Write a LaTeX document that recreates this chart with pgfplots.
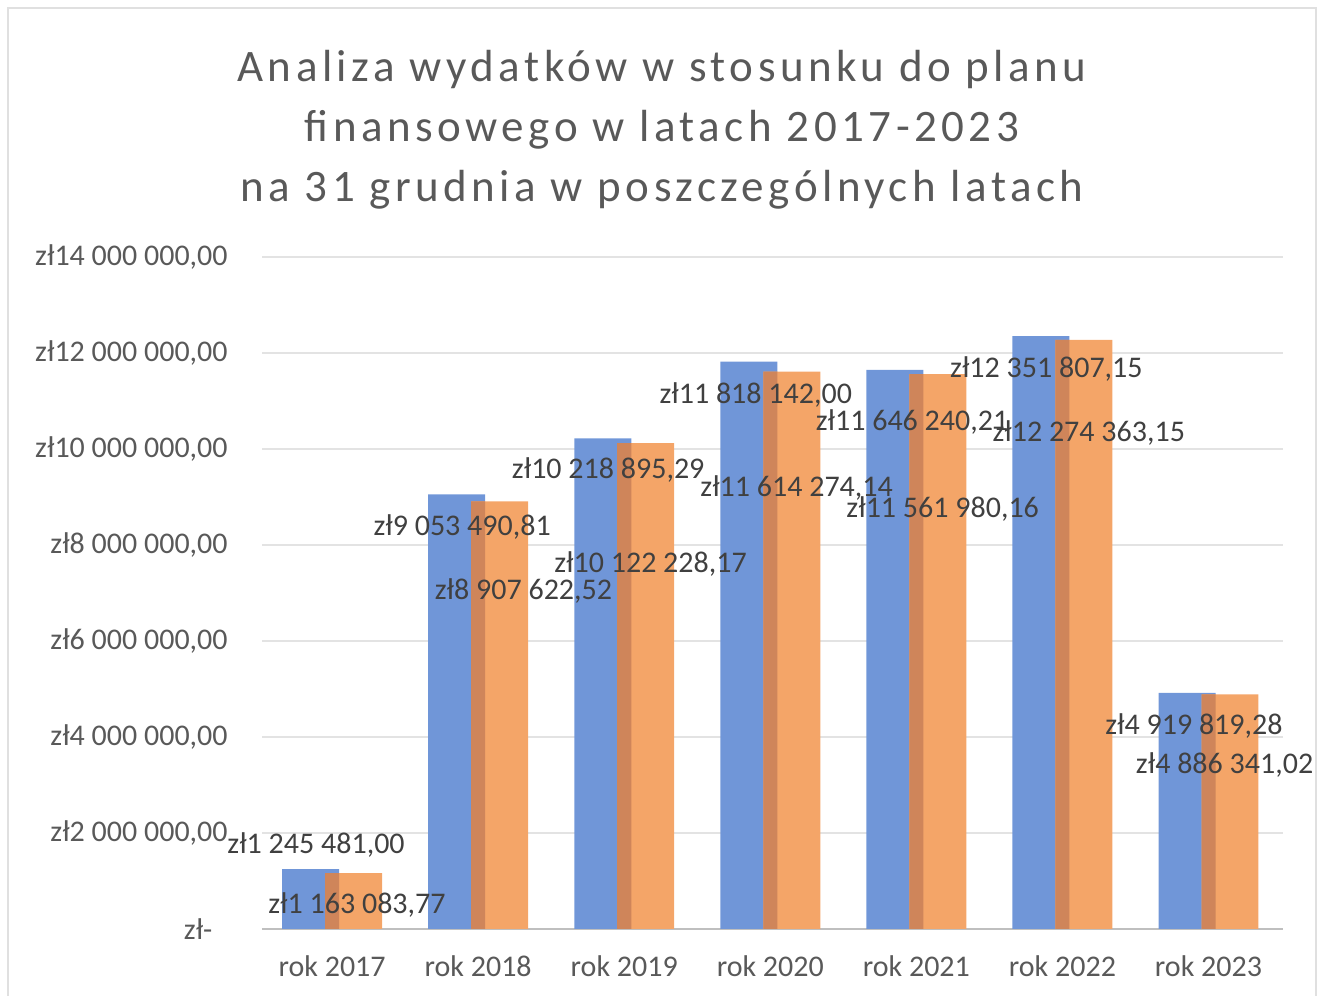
\documentclass[border=0pt]{standalone}
\usepackage{pgfplots}
\pgfplotsset{compat=1.18}
\usepackage{pgfplotstable}
\usepackage{fontspec}
\setmainfont{Carlito}
\newfontfamily\titlefont[LetterSpace=10]{Carlito}
\definecolor{cblue}{HTML}{7096D8}
\definecolor{corange}{HTML}{F4A568}
\definecolor{cdark}{HTML}{CF855A}
\definecolor{tgray}{HTML}{595959}
\definecolor{lgray}{HTML}{404040}
\definecolor{gridc}{HTML}{E3E3E3}
\definecolor{axisc}{HTML}{BFBFBF}
\tikzset{lab/.style={text=lgray, font=\fontsize{15}{18}\selectfont, inner sep=0pt}}

\pgfplotstableread{
x blue orange
0 1245481.00 1163083.77
1 9053490.81 8907622.52
2 10218895.29 10122228.17
3 11818142.00 11614274.14
4 11646240.21 11561980.16
5 12351807.15 12274363.15
6 4919819.28 4886341.02
}\data

\begin{document}
\begin{tikzpicture}
\useasboundingbox (0,0) rectangle (659.5pt,498pt);
\draw[color=black!12, line width=1pt] (4pt,-5pt) rectangle (658pt,494pt);
\node[align=center, text=tgray, font=\titlefont\fontsize{22.5}{30}\selectfont] at (331pt,433pt)
 {Analiza wydatków w stosunku do planu\\finansowego w latach 2017-2023\\na 31 grudnia w poszczególnych latach};
\begin{axis}[
 at={(131pt,33.5pt)}, anchor=south west,
 scale only axis, width=510.5pt, height=336pt,
 xmin=-0.48, xmax=6.51, ymin=0, ymax=14000000,
 axis x line*=bottom, axis y line*=left,
 x axis line style={axisc, line width=1pt, -},
 y axis line style={draw=none},
 major tick length=0pt,
 ymajorgrids, grid style={gridc, line width=0.8pt},
 ytick={0,2000000,4000000,6000000,8000000,10000000,12000000,14000000},
 yticklabels={{zł-\hphantom{0}},{zł2 000 000,00},{zł4 000 000,00},{zł6 000 000,00},{zł8 000 000,00},{zł10 000 000,00},{zł12 000 000,00},{zł14 000 000,00}},
 yticklabel style={text=tgray, font=\fontsize{15}{18}\selectfont, anchor=east, inner sep=0pt, xshift=-17pt},
 xtick={0,1,2,3,4,5,6},
 xticklabels={rok 2017,rok 2018,rok 2019,rok 2020,rok 2021,rok 2022,rok 2023},
 xticklabel style={text=tgray, font=\fontsize{15}{18}\selectfont, anchor=base, inner sep=0pt, yshift=-24pt},
 scaled y ticks=false,
 clip=false,
]
\addplot[ybar, fill=cblue, draw=none, bar shift=-0.147, bar width=0.39] table[x=x,y=blue]{\data};
\addplot[ybar, fill=corange, draw=none, bar shift=0.147, bar width=0.39] table[x=x,y=orange]{\data};
\addplot[ybar, fill=cdark, draw=none, bar shift=0, bar width=0.096] table[x=x,y=orange]{\data};
\node[lab] at (axis cs:-0.11,1750000) {zł1 245 481,00};
\node[lab] at (axis cs:0.17,500000) {zł1 163 083,77};
\node[lab] at (axis cs:0.89,8375000) {zł9 053 490,81};
\node[lab] at (axis cs:1.31,7040000) {zł8 907 622,52};
\node[lab] at (axis cs:1.89,9560000) {zł10 218 895,29};
\node[lab] at (axis cs:2.18,7600000) {zł10 122 228,17};
\node[lab] at (axis cs:2.90,11125000) {zł11 818 142,00};
\node[lab] at (axis cs:3.18,9190000) {zł11 614 274,14};
\node[lab] at (axis cs:3.97,10560000) {zł11 646 240,21};
\node[lab] at (axis cs:4.18,8750000) {zł11 561 980,16};
\node[lab] at (axis cs:4.89,11670000) {zł12 351 807,15};
\node[lab] at (axis cs:5.18,10330000) {zł12 274 363,15};
\node[lab] at (axis cs:5.90,4230000) {zł4 919 819,28};
\node[lab] at (axis cs:6.11,3420000) {zł4 886 341,02};
\end{axis}
\end{tikzpicture}
\end{document}
